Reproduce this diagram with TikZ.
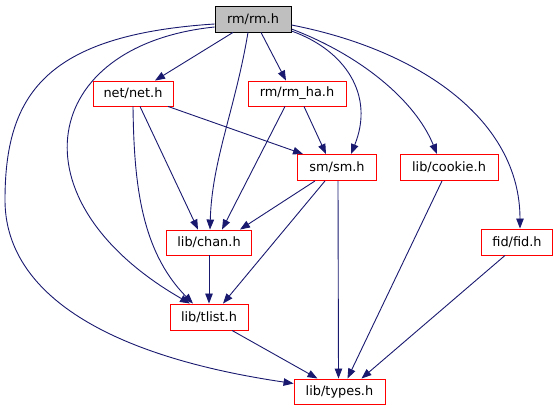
\documentclass[tikz,border=0pt]{standalone}
\usepackage{fontspec}
\setmainfont{DejaVu Sans}
\usetikzlibrary{arrows.meta}
\definecolor{edgeblue}{HTML}{191970}
\definecolor{rootgray}{HTML}{BFBFBF}
\begin{document}
\begin{tikzpicture}[x=1pt,y=-1pt,
  box/.style={draw=red,line width=0.9pt,fill=white,inner sep=0pt,minimum height=25pt,font=\fontsize{12.9}{15}\selectfont},
  root/.style={box,draw=black,fill=rootgray},
  edge/.style={draw=edgeblue,line width=0.9pt,-{Triangle[length=10pt,width=7.5pt]}}]
\useasboundingbox (0,0) rectangle (558,411);
\node[root,minimum width=76pt,minimum height=26pt] (rm) at (253,19) {rm/rm.h};
\node[box,minimum width=80pt] (net) at (133,93.5) {net/net.h};
\node[box,minimum width=98pt] (rmha) at (297,93.5) {rm/rm\_ha.h};
\node[box,minimum width=79pt,minimum height=26pt] (sm) at (337,167.5) {sm/sm.h};
\node[box,minimum width=98pt,minimum height=26pt] (cookie) at (449,167.5) {lib/cookie.h};
\node[box,minimum width=85pt] (chan) at (209,242.5) {lib/chan.h};
\node[box,minimum width=71pt,minimum height=26pt] (fid) at (517,242) {fid/fid.h};
\node[box,minimum width=78pt,minimum height=26pt] (tlist) at (209,317) {lib/tlist.h};
\node[box,minimum width=91pt] (types) at (339.5,391.5) {lib/types.h};
% from rm/rm.h
\draw[edge] ([xshift=-20pt]rm.south) -- ([xshift=22pt]net.north);
\draw[edge] ([xshift=8pt]rm.south) -- ([xshift=-11pt]rmha.north);
\draw[edge] ([xshift=-5pt]rm.south) .. controls (235,110) and (212,160) .. ([xshift=1pt]chan.north);
\draw[edge] ([yshift=-8pt]rm.west) .. controls (40,45) and (10,200) .. ([xshift=-19pt]tlist.north);
\draw[edge] ([yshift=-5pt]rm.west) .. controls (45,35) and (5,95) .. (5,200) .. controls (5,290) and (100,355) .. ([yshift=8pt]types.west);
\draw[edge] ([yshift=-12pt]rm.east) .. controls (345,50) and (375,95) .. ([xshift=14pt]sm.north);
\draw[edge] ([yshift=-10pt]rm.east) .. controls (360,55) and (415,100) .. ([xshift=-12pt]cookie.north);
\draw[edge] ([yshift=-6pt]rm.east) .. controls (420,50) and (520,120) .. ([xshift=3pt]fid.north);
% from net/net.h
\draw[edge] ([xshift=35pt]net.south) -- ([xshift=-34pt]sm.north);
\draw[edge] ([xshift=7pt]net.south) -- ([xshift=-11pt]chan.north);
\draw[edge] (net.south) .. controls (134,180) and (140,250) .. ([xshift=-16pt]tlist.north);
% from rm/rm_ha.h
\draw[edge] ([xshift=7pt]rmha.south) -- ([xshift=-11pt]sm.north);
\draw[edge] ([xshift=-12pt]rmha.south) -- ([xshift=13pt]chan.north);
% from sm/sm.h
\draw[edge] ([xshift=-22pt]sm.south) -- ([xshift=31pt]chan.north);
\draw[edge] ([xshift=-12pt]sm.south) -- ([xshift=14pt]tlist.north);
\draw[edge] ([xshift=1pt]sm.south) -- ([xshift=-1pt]types.north);
% others
\draw[edge] ([xshift=-7pt]cookie.south) -- ([xshift=8pt]types.north);
\draw[edge] ([xshift=-12pt]fid.south) -- ([xshift=22pt]types.north);
\draw[edge] (chan.south) -- (tlist.north);
\draw[edge] ([xshift=23pt]tlist.south) -- ([xshift=-22pt]types.north);
\end{tikzpicture}
\end{document}
